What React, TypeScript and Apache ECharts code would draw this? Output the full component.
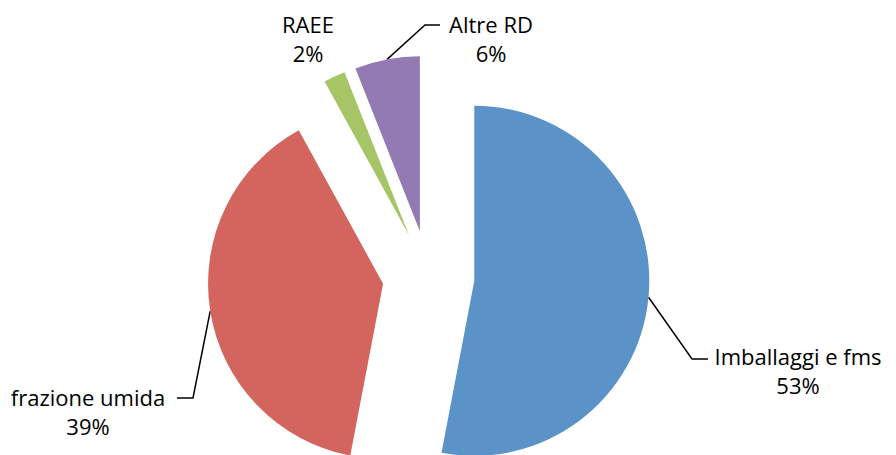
import React, { useEffect, useRef } from "react";
import * as echarts from "echarts";

const categories = ["Imballaggi e fms", "frazione umida", "RAEE", "Altre RD"];
const values = [53, 39, 2, 6];

const colors = ["#5B93C9", "#D3645E", "#A5C566", "#947AB2"];
const FONT = "'Open Sans', sans-serif";

const BASE_CENTER = [428.5, 276.5];
const RADIUS = 175;
const EXPLODE = 46;

// label layout (center of text block) and leader-line elbow/end points
const labelLayouts: { x: number; y: number; line?: number[][] }[] = [
  { x: 798, y: 370, line: [[692, 359], [708, 359]] },
  { x: 88, y: 411, line: [[193, 398], [177, 398]] },
  { x: 308, y: 38 },
  { x: 491, y: 38, line: [[425, 25], [440, 25]] },
];

export default function App() {
  const ref = useRef<HTMLDivElement>(null);
  useEffect(() => {
    if (!ref.current) return;
    const chart = echarts.init(ref.current, null, { renderer: "svg" });
    const total = values.reduce((a, b) => a + b, 0);
    let cum = 0;
    const series = values.map((v, k) => {
      const mid = ((cum + v / 2) / total) * 2 * Math.PI; // clockwise from 12 o'clock
      cum += v;
      const cx = BASE_CENTER[0] + EXPLODE * Math.sin(mid);
      const cy = BASE_CENTER[1] - EXPLODE * Math.cos(mid);
      const l = labelLayouts[k];
      return {
        type: "pie",
        center: [cx, cy],
        radius: RADIUS,
        startAngle: 90,
        clockwise: true,
        avoidLabelOverlap: false,
        percentPrecision: 0,
        silent: true,
        emphasis: { disabled: true },
        data: categories.map((name, i) => ({
          name,
          value: values[i],
          itemStyle: i === k ? { color: colors[i] } : { color: "rgba(0,0,0,0)" },
          label: { show: i === k },
          labelLine: { show: i === k && !!l.line },
        })),
        label: {
          position: "outside",
          formatter: "{b}\n{d}%",
          fontFamily: FONT,
          fontSize: 22,
          lineHeight: 29,
          color: "#000",
          align: "center",
        },
        labelLine: {
          length: 10,
          length2: 10,
          lineStyle: { color: "#000", width: 1.5 },
        },
        labelLayout: (params: any) => {
          if (params.dataIndex !== k) return {};
          const res: any = {
            x: l.x,
            y: l.y,
            align: "center",
            verticalAlign: "middle",
          };
          if (l.line && params.labelLinePoints) {
            res.labelLinePoints = [params.labelLinePoints[0], l.line[0], l.line[1]];
          }
          return res;
        },
      };
    });
    chart.setOption({
      animation: false,
      backgroundColor: "#ffffff",
      series,
    });
    return () => chart.dispose();
  }, []);
  return (
    <div
      ref={ref}
      style={{ position: "absolute", left: 0, top: 0, width: 896, height: 455, background: "#fff" }}
    />
  );
}
